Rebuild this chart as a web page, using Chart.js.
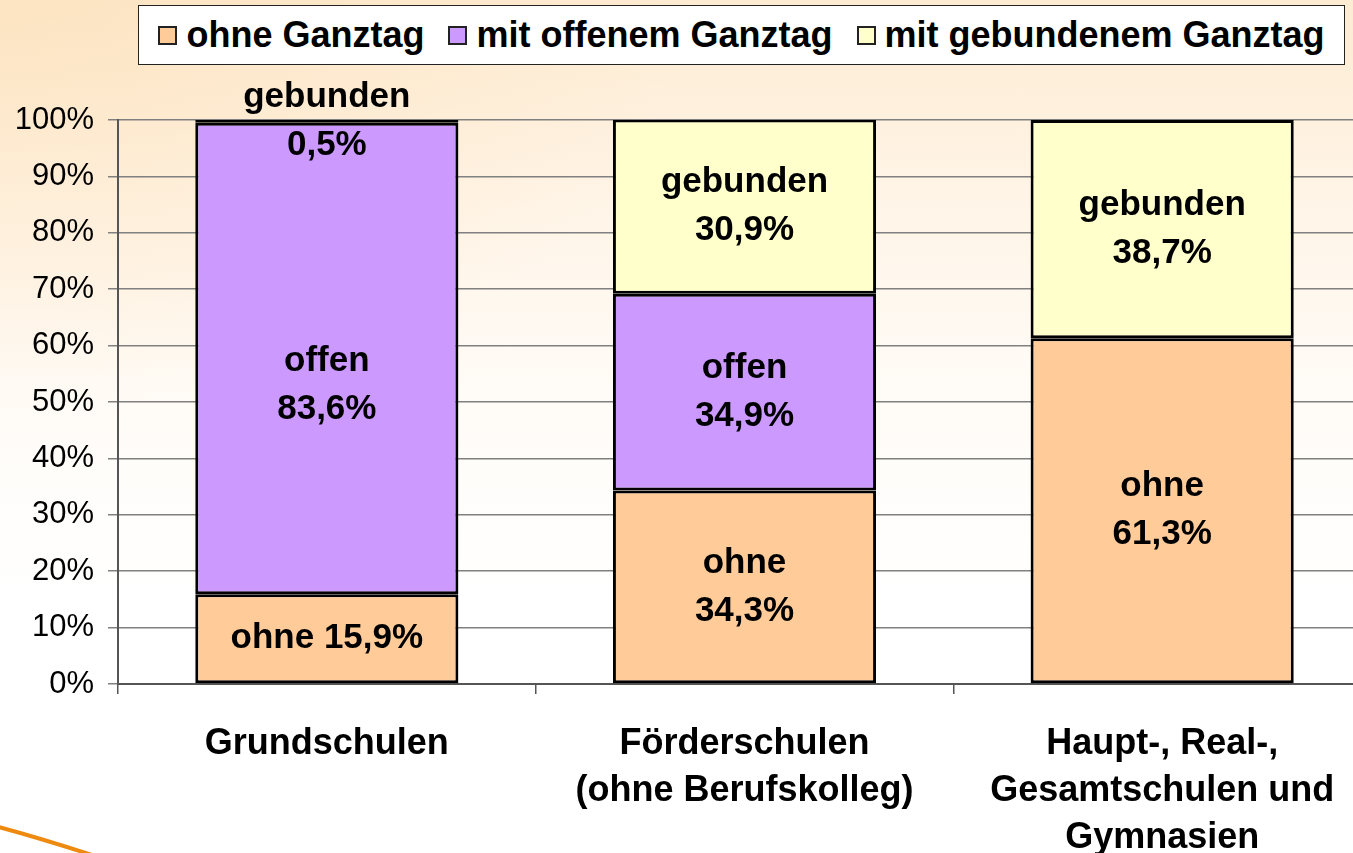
<!DOCTYPE html>
<html lang="de">
<head>
<meta charset="utf-8">
<script src="https://cdn.jsdelivr.net/npm/chart.js@4/dist/chart.umd.min.js"></script>
<style>
  html, body {
    margin: 0;
    width: 1353px;
    height: 853px;
    overflow: hidden;
    font-family: "Liberation Sans", Arial, sans-serif;
  }
  body {
    background:
      radial-gradient(ellipse 700px 420px at 0 0, rgba(252, 222, 180, 0.55), rgba(255, 255, 255, 0) 100%),
      linear-gradient(to bottom, #fdebd2 0%, #fff4e6 22%, #fffbf6 45%, #ffffff 70%);
    position: relative;
  }
  #wrap {
    position: absolute;
    left: 0;
    top: 0;
  }
  #legend {
    position: absolute;
    left: 138px;
    top: 5px;
    width: 1205px;
    height: 58px;
    background: #fff;
    border: 1px solid #222;
    display: flex;
    align-items: center;
    justify-content: center;
    font-weight: bold;
    font-size: 36px;
    color: #000;
    white-space: nowrap;
  }
  #legend .item {
    display: flex;
    align-items: center;
    margin: 0 12px;
  }
  #legend .box {
    width: 15px;
    height: 15px;
    border: 2px solid #222;
    margin-right: 9px;
  }
  #swoosh {
    position: absolute;
    left: 0;
    top: 800px;
  }
</style>
</head>
<body>
<div id="wrap"><canvas id="chart" width="1371" height="853"></canvas></div>
<div id="legend"></div>
<svg id="swoosh" width="200" height="53">
  <path d="M -5 26 Q 40 38 95 56" stroke="#ee8a10" stroke-width="4" fill="none"/>
</svg>
<script>
const categories = [
  "Grundschulen",
  ["Förderschulen", "(ohne Berufskolleg)"],
  ["Haupt-, Real-,", "Gesamtschulen und", "Gymnasien"]
];
const seriesNames = ["ohne Ganztag", "mit offenem Ganztag", "mit gebundenem Ganztag"];
const segmentWords = ["ohne", "offen", "gebunden"];
const ohneValues = [15.9, 34.3, 61.3];
const offenValues = [83.6, 34.9, 0];
const gebundenValues = [0.5, 30.9, 38.7];
const yTicks = [0, 10, 20, 30, 40, 50, 60, 70, 80, 90, 100];
const colors = ["#ffcc99", "#cc99ff", "#ffffcc"];

const fmt = (v) => v.toFixed(1).replace(".", ",") + "%";

// legend
const legendEl = document.getElementById("legend");
seriesNames.forEach((name, i) => {
  const item = document.createElement("div");
  item.className = "item";
  const box = document.createElement("span");
  box.className = "box";
  box.style.background = colors[i];
  const txt = document.createElement("span");
  txt.textContent = name;
  item.appendChild(box);
  item.appendChild(txt);
  legendEl.appendChild(item);
});

const segmentLabels = {
  id: "segmentLabels",
  afterDatasetsDraw(chart) {
    const ctx = chart.ctx;
    ctx.save();
    ctx.font = "bold 35px 'Liberation Sans', Arial, sans-serif";
    ctx.fillStyle = "#000";
    ctx.textAlign = "center";
    ctx.textBaseline = "middle";
    chart.data.datasets.forEach((ds, di) => {
      const meta = chart.getDatasetMeta(di);
      meta.data.forEach((bar, ci) => {
        const v = ds.data[ci];
        if (!v) return;
        let lines = [segmentWords[di], fmt(v)];
        if (di === 0 && ci === 0) lines = [segmentWords[di] + " " + fmt(v)];
        let cy = (bar.y + bar.base) / 2;
        if (di === 1 && ci === 0) cy += 27;
        const lh = 48;
        const start = cy - (lines.length - 1) * lh / 2;
        lines.forEach((t, k) => ctx.fillText(t, bar.x, start + k * lh));
      });
    });
    ctx.restore();
  }
};

Chart.defaults.font.family = "'Liberation Sans', Arial, sans-serif";
Chart.defaults.color = "#000";

new Chart(document.getElementById("chart"), {
  type: "bar",
  data: {
    labels: categories,
    datasets: [
      { label: seriesNames[0], data: ohneValues, backgroundColor: colors[0] },
      { label: seriesNames[1], data: offenValues, backgroundColor: colors[1] },
      { label: seriesNames[2], data: gebundenValues, backgroundColor: colors[2] }
    ].map((d) => ({
      ...d,
      borderColor: "#000",
      borderWidth: 3,
      borderSkipped: false,
      categoryPercentage: 1,
      barPercentage: 0.63
    }))
  },
  options: {
    responsive: false,
    animation: false,
    layout: { padding: { top: 120, left: 0, right: 0, bottom: 0 } },
    plugins: {
      legend: { display: false },
      tooltip: { enabled: false }
    },
    scales: {
      x: {
        stacked: true,
        grid: {
          drawOnChartArea: false,
          drawTicks: true,
          tickLength: 10,
          color: "#555",
          lineWidth: 1.5
        },
        border: { color: "#555", width: 2 },
        ticks: {
          maxRotation: 0,
          autoSkip: false,
          padding: 26,
          font: { size: 36, weight: "bold", lineHeight: 1.31 },
          color: "#000"
        },
        afterFit: (s) => { s.height = 169; }
      },
      y: {
        stacked: true,
        min: 0,
        max: 100,
        afterBuildTicks: (s) => { s.ticks = yTicks.map((v) => ({ value: v })); },
        grid: { color: "#808080", lineWidth: 1.5, tickLength: 10 },
        border: { color: "#555", width: 2 },
        ticks: {
          padding: 14,
          font: { size: 31 },
          color: "#000",
          callback: (v) => v + "%"
        },
        afterFit: (s) => { s.width = 118; }
      }
    }
  },
  plugins: [segmentLabels]
});
</script>
</body>
</html>
